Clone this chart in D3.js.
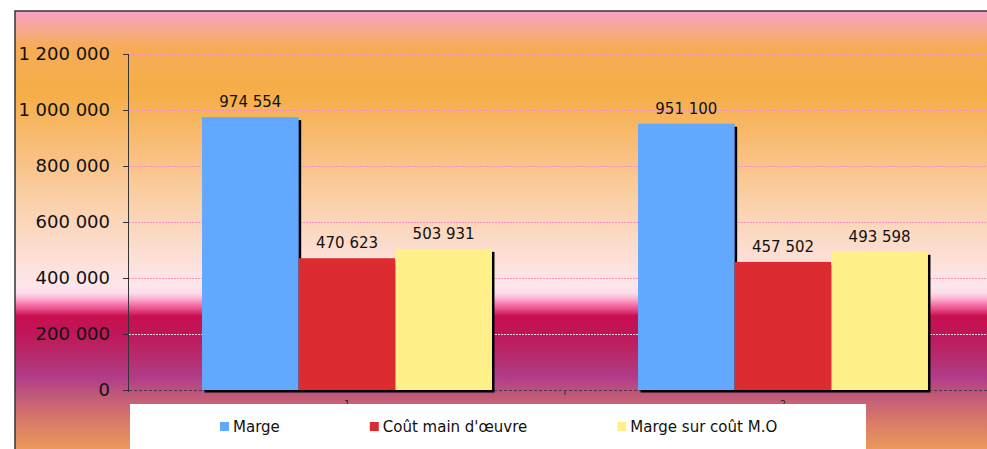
<!DOCTYPE html>
<html>
<head>
<meta charset="utf-8">
<style>
body { margin: 0; background: #fff; }
svg { display: block; font-family: "DejaVu Sans", Verdana, sans-serif; }
.axis path, .axis line { shape-rendering: crispEdges; }
</style>
</head>
<body>
<svg width="987" height="449"></svg>
<script src="https://cdnjs.cloudflare.com/ajax/libs/d3/7.8.5/d3.min.js"></script>
<script>
// data
var categories = ["1", "2"];
var seriesNames = ["Marge", "Coût main d'œuvre", "Marge sur coût M.O"];
var marge = [974554, 951100];
var coutMO = [470623, 457502];
var margeSurMO = [503931, 493598];
var yTicks = [0, 200000, 400000, 600000, 800000, 1000000, 1200000];

var colors = ["#62A8FF", "#DC2C32", "#FFF08A"];

var svg = d3.select("svg"),
    W = +svg.attr("width"),
    H = +svg.attr("height");

// background gradient of the chart frame
var defs = svg.append("defs");
var grad = defs.append("linearGradient")
    .attr("id", "bg")
    .attr("x1", 0).attr("y1", 0).attr("x2", 0).attr("y2", 1);
var frameTop = 11, frameH = H - frameTop;
var stops = [
  [12, "#F9A0C8"], [28, "#F7A892"], [48, "#F6AC55"], [95, "#F5AE48"],
  [150, "#F8BE7C"], [200, "#FAD0A8"], [250, "#FCDDD0"], [285, "#FDE6EA"],
  [293, "#FDDDEB"], [299, "#FAB0D0"], [304, "#F878B0"], [309, "#E8508C"],
  [316, "#C8104F"], [332, "#C01558"], [352, "#B82868"], [377, "#B03C88"],
  [396, "#C05A78"], [420, "#D87868"], [449, "#EA9A5C"]
];
grad.selectAll("stop").data(stops).enter().append("stop")
    .attr("offset", function(d) { return ((d[0] - frameTop) / frameH); })
    .attr("stop-color", function(d) { return d[1]; });

svg.append("rect")
    .attr("x", 15).attr("y", frameTop)
    .attr("width", W - 15).attr("height", frameH)
    .attr("fill", "url(#bg)");
svg.append("path")
    .attr("d", "M15," + H + "V" + frameTop + "H" + W)
    .attr("fill", "none")
    .attr("stroke", "#3a3333")
    .attr("stroke-width", 1.5);

var plot = {left: 129, right: 1001, top: 54, bottom: 390};

var x0 = d3.scaleBand()
    .domain(categories)
    .range([plot.left, plot.right])
    .paddingInner(0.335)
    .paddingOuter(0.1675);

var x1 = d3.scaleBand()
    .domain(seriesNames)
    .range([0, x0.bandwidth()]);

var y = d3.scaleLinear()
    .domain([0, 1200000])
    .range([plot.bottom, plot.top]);

var fmt = function(v) { return d3.format(",")(v).replace(/,/g, " "); };

// gridlines
svg.append("g").selectAll("line")
    .data(yTicks.filter(function(d) { return d > 0; }))
    .enter().append("line")
      .attr("x1", plot.left).attr("x2", W)
      .attr("y1", function(d) { return Math.round(y(d)) + 0.5; })
      .attr("y2", function(d) { return Math.round(y(d)) + 0.5; })
      .attr("stroke", function(d) { return d === 200000 ? "#F6D8E4" : "#F590C0"; })
      .attr("stroke-width", 1)
      .attr("stroke-dasharray", "2,1");

// x axis baseline (dashed) and small ticks
svg.append("line")
    .attr("x1", plot.left).attr("x2", W)
    .attr("y1", plot.bottom + 0.5).attr("y2", plot.bottom + 0.5)
    .attr("stroke", "#4a3a40")
    .attr("stroke-dasharray", "3,2");

svg.append("g").selectAll("line")
    .data(categories.slice(1))
    .enter().append("line")
      .attr("x1", function(d) { return x0(d) - x0.step() * x0.paddingInner() / 2; })
      .attr("x2", function(d) { return x0(d) - x0.step() * x0.paddingInner() / 2; })
      .attr("y1", plot.bottom).attr("y2", plot.bottom + 5)
      .attr("stroke", "#333");

svg.append("g").selectAll("text")
    .data(categories)
    .enter().append("text")
      .attr("x", function(d) { return x0(d) + x0.bandwidth() / 2; })
      .attr("y", plot.bottom + 17)
      .attr("text-anchor", "middle")
      .attr("font-size", 9)
      .attr("fill", "#222")
      .text(function(d) { return d; });

// bars
var table = categories.map(function(c, i) {
  return {cat: c, values: [marge[i], coutMO[i], margeSurMO[i]]};
});

var groups = svg.append("g").selectAll("g")
    .data(table)
    .enter().append("g")
      .attr("transform", function(d) { return "translate(" + x0(d.cat) + ",0)"; });

var cells = function(d) {
  return d.values.map(function(v, i) { return {key: seriesNames[i], value: v, i: i}; });
};

groups.selectAll("rect.shadow")
    .data(cells)
    .enter().append("rect")
      .attr("class", "shadow")
      .attr("x", function(d) { return x1(d.key) + 2.5; })
      .attr("y", function(d) { return y(d.value) + 3; })
      .attr("width", x1.bandwidth())
      .attr("height", function(d) { return y(0) - y(d.value) - 0.5; })
      .attr("fill", "#000");

groups.selectAll("rect.bar")
    .data(cells)
    .enter().append("rect")
      .attr("class", "bar")
      .attr("x", function(d) { return x1(d.key); })
      .attr("y", function(d) { return y(d.value); })
      .attr("width", x1.bandwidth())
      .attr("height", function(d) { return y(0) - y(d.value); })
      .attr("fill", function(d) { return colors[d.i]; });

groups.selectAll("text")
    .data(cells)
    .enter().append("text")
      .attr("x", function(d) { return x1(d.key) + x1.bandwidth() / 2; })
      .attr("y", function(d) { return y(d.value) - 10; })
      .attr("text-anchor", "middle")
      .attr("font-size", 15)
      .attr("fill", "#111")
      .text(function(d) { return fmt(d.value); });

// y axis
var yAxis = svg.append("g")
    .attr("class", "axis")
    .attr("transform", "translate(" + (plot.left - 1) + ",0)")
    .call(d3.axisLeft(y).tickValues(yTicks).tickSize(5).tickPadding(13).tickFormat(fmt));
yAxis.select(".domain").attr("stroke", "#333").attr("d", "M0.5," + plot.top + "V" + (plot.bottom + 2));
yAxis.selectAll(".tick line").attr("stroke", "#333");
yAxis.selectAll("text")
    .attr("font-family", "DejaVu Sans, Verdana, sans-serif")
    .attr("font-size", 18)
    .attr("fill", "#111");

// legend
svg.append("rect")
    .attr("x", 130).attr("y", 404)
    .attr("width", 736).attr("height", H - 404)
    .attr("fill", "#fff");

var legend = svg.append("g").attr("transform", "translate(220,422)");
var lx = 0;
seriesNames.forEach(function(name, i) {
  var item = legend.append("g").attr("transform", "translate(" + lx + ",0)");
  item.append("rect")
      .attr("width", 9).attr("height", 9)
      .attr("fill", colors[i]);
  var t = item.append("text")
      .attr("x", 13).attr("y", 10)
      .attr("font-size", 15)
      .attr("fill", "#111")
      .text(name);
  lx += 13 + t.node().getComputedTextLength() + 90;
});
</script>
</body>
</html>
